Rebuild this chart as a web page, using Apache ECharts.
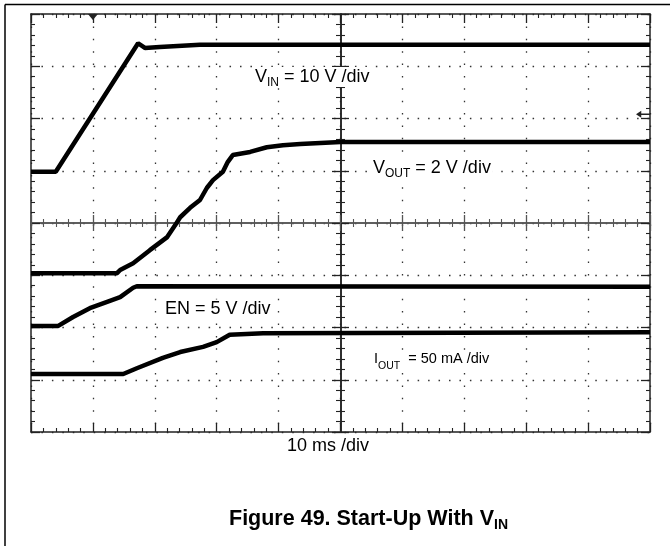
<!DOCTYPE html>
<html>
<head>
<meta charset="utf-8">
<script src="https://cdn.jsdelivr.net/npm/echarts@6/dist/echarts.min.js"></script>
<style>
html,body{margin:0;padding:0;background:#fff;}
#chart{width:670px;height:546px;}
</style>
</head>
<body>
<div id="chart"></div>
<script>
// Oscilloscope traces, in divisions (x: 0..10 at 10 ms/div, y: 0..8 divisions)
const vinTrace  = [[0,4.98],[0.40,4.98],[1.73,7.44],[1.84,7.35],[2.08,7.37],[2.73,7.41],[10,7.41]];
const voutTrace = [[0,3.04],[1.39,3.04],[1.44,3.10],[1.65,3.23],[1.92,3.48],[2.20,3.73],[2.33,3.96],[2.41,4.11],[2.57,4.29],[2.73,4.44],[2.84,4.67],[2.94,4.82],[3.10,4.98],[3.18,5.17],[3.26,5.30],[3.54,5.36],[3.81,5.45],[4.07,5.49],[4.35,5.51],[5.0,5.55],[10,5.55]];
const enTrace   = [[0,2.03],[0.44,2.03],[0.68,2.20],[0.95,2.37],[1.23,2.49],[1.44,2.58],[1.65,2.76],[1.71,2.79],[10,2.78]];
const ioutTrace = [[0,1.11],[1.49,1.11],[1.71,1.22],[2.13,1.42],[2.41,1.53],[2.78,1.63],[3.00,1.72],[3.21,1.86],[3.75,1.89],[10,1.91]];
const xDivisions = [0, 10];
const yDivisions = [0, 8];
const triggerMarker = [1, 8];
const levelMarker = [10, 6.08];

const FONT = '"Liberation Sans", Arial, sans-serif';
const chart = echarts.init(document.getElementById('chart'));

function edgeAxis(pos, inside, offset, major, minor, split, color) {
  return {
    type: 'value', position: pos, offset: offset || 0,
    min: pos === 'left' || pos === 'right' ? yDivisions[0] : xDivisions[0],
    max: pos === 'left' || pos === 'right' ? yDivisions[1] : xDivisions[1],
    interval: 1,
    axisLine: { show: true, onZero: false, lineStyle: { color: color || '#222', width: 1.5 } },
    axisTick: { show: true, inside: inside, length: major, lineStyle: { color: color || '#222', width: 1.3 } },
    minorTick: { show: true, splitNumber: 5, length: minor, lineStyle: { color: color || '#222', width: 1.1 } },
    axisLabel: { show: false },
    splitLine: split ? { show: true, lineStyle: split } : { show: false }
  };
}

const option = {
  animation: false,
  backgroundColor: '#fff',
  grid: { left: 31, top: 14, width: 619, height: 418, containLabel: false },
  xAxis: [
    edgeAxis('bottom', true, 0, 9, 4, { color: '#333', width: 1.3, type: [1.5, 10.88] }),
    edgeAxis('top', true, 0, 9, 4),
    edgeAxis('bottom', true, -209, 8, 4, null, '#555'),
    edgeAxis('bottom', false, -209, 8, 4, null, '#555')
  ],
  yAxis: [
    edgeAxis('left', true, 0, 9, 4, { color: '#333', width: 1.3, type: [1.5, 8.95] }),
    edgeAxis('right', true, 0, 9, 4),
    edgeAxis('left', true, -309.5, 8.5, 4.5),
    edgeAxis('left', false, -309.5, 8.5, 4.5)
  ],
  series: [
    { type: 'line', data: vinTrace, showSymbol: false, lineStyle: { color: '#000', width: 4.5 },
      markPoint: { silent: true, label: { show: false }, data: [
        { coord: triggerMarker, symbol: 'triangle', symbolRotate: 180, symbolSize: [10, 6], symbolOffset: [0, 3], itemStyle: { color: '#222' } },
        { coord: levelMarker, symbol: 'path://M0,5 L6,0 L6,4 L16,4 L16,6 L6,6 L6,10 Z', symbolSize: [14, 7], symbolOffset: [-7, 0], itemStyle: { color: '#222' } }
      ] } },
    { type: 'line', data: voutTrace, showSymbol: false, lineStyle: { color: '#000', width: 4.5 } },
    { type: 'line', data: enTrace, showSymbol: false, lineStyle: { color: '#000', width: 4.5 } },
    { type: 'line', data: ioutTrace, showSymbol: false, lineStyle: { color: '#000', width: 4.5 } }
  ],
  graphic: [
    { type: 'line', shape: { x1: 5, y1: 4.5, x2: 670, y2: 4.5 }, style: { stroke: '#000', lineWidth: 1.5 } },
    { type: 'line', shape: { x1: 5, y1: 4.5, x2: 5, y2: 546 }, style: { stroke: '#000', lineWidth: 1.5 } },
    { type: 'text', x: 253, y: 67, z: 10, style: { text: '{m|V}{s|IN}{m| = 10 V /div}', backgroundColor: '#fff', padding: [1, 2, 1, 2], rich: {
        m: { fontFamily: FONT, fontSize: 18, lineHeight: 18, verticalAlign: 'top', fill: '#000' },
        s: { fontFamily: FONT, fontSize: 12, lineHeight: 12, verticalAlign: 'top', padding: [9, 0, 0, 0], fill: '#000' } } } },
    { type: 'text', x: 371, y: 158.5, z: 10, style: { text: '{m|V}{s|OUT}{m| = 2 V /div}', backgroundColor: '#fff', padding: [1, 2, 1, 2], rich: {
        m: { fontFamily: FONT, fontSize: 18, lineHeight: 18, verticalAlign: 'top', fill: '#000' },
        s: { fontFamily: FONT, fontSize: 12, lineHeight: 12, verticalAlign: 'top', padding: [8, 0, 0, 0], fill: '#000' } } } },
    { type: 'text', x: 163, y: 299.5, z: 10, style: { text: 'EN = 5 V /div', backgroundColor: '#fff', padding: [1, 2, 1, 2], fontFamily: FONT, fontSize: 18, lineHeight: 18, verticalAlign: 'top', fill: '#000' } },
    { type: 'text', x: 372, y: 350.5, z: 10, style: { text: '{m|I}{s|OUT}{m|  = 50 mA /div}', backgroundColor: '#fff', padding: [1, 2, 1, 2], rich: {
        m: { fontFamily: FONT, fontSize: 14.5, lineHeight: 15, verticalAlign: 'top', fill: '#000' },
        s: { fontFamily: FONT, fontSize: 10.5, lineHeight: 10, verticalAlign: 'top', padding: [9, 0, 0, 0], fill: '#000' } } } },
    { type: 'text', x: 287, y: 437, z: 10, style: { text: '10 ms /div', fontFamily: FONT, fontSize: 18, lineHeight: 18, verticalAlign: 'top', fill: '#000' } },
    { type: 'text', x: 229, y: 508.5, z: 10, style: { text: '{m|Figure 49. Start-Up With V}{s|IN}', rich: {
        m: { fontFamily: FONT, fontSize: 21.5, fontWeight: 'bold', lineHeight: 21, verticalAlign: 'top', fill: '#000' },
        s: { fontFamily: FONT, fontSize: 14, fontWeight: 'bold', lineHeight: 14, verticalAlign: 'top', padding: [10, 0, 0, 0], fill: '#000' } } } }
  ]
};
chart.setOption(option);
</script>
</body>
</html>
